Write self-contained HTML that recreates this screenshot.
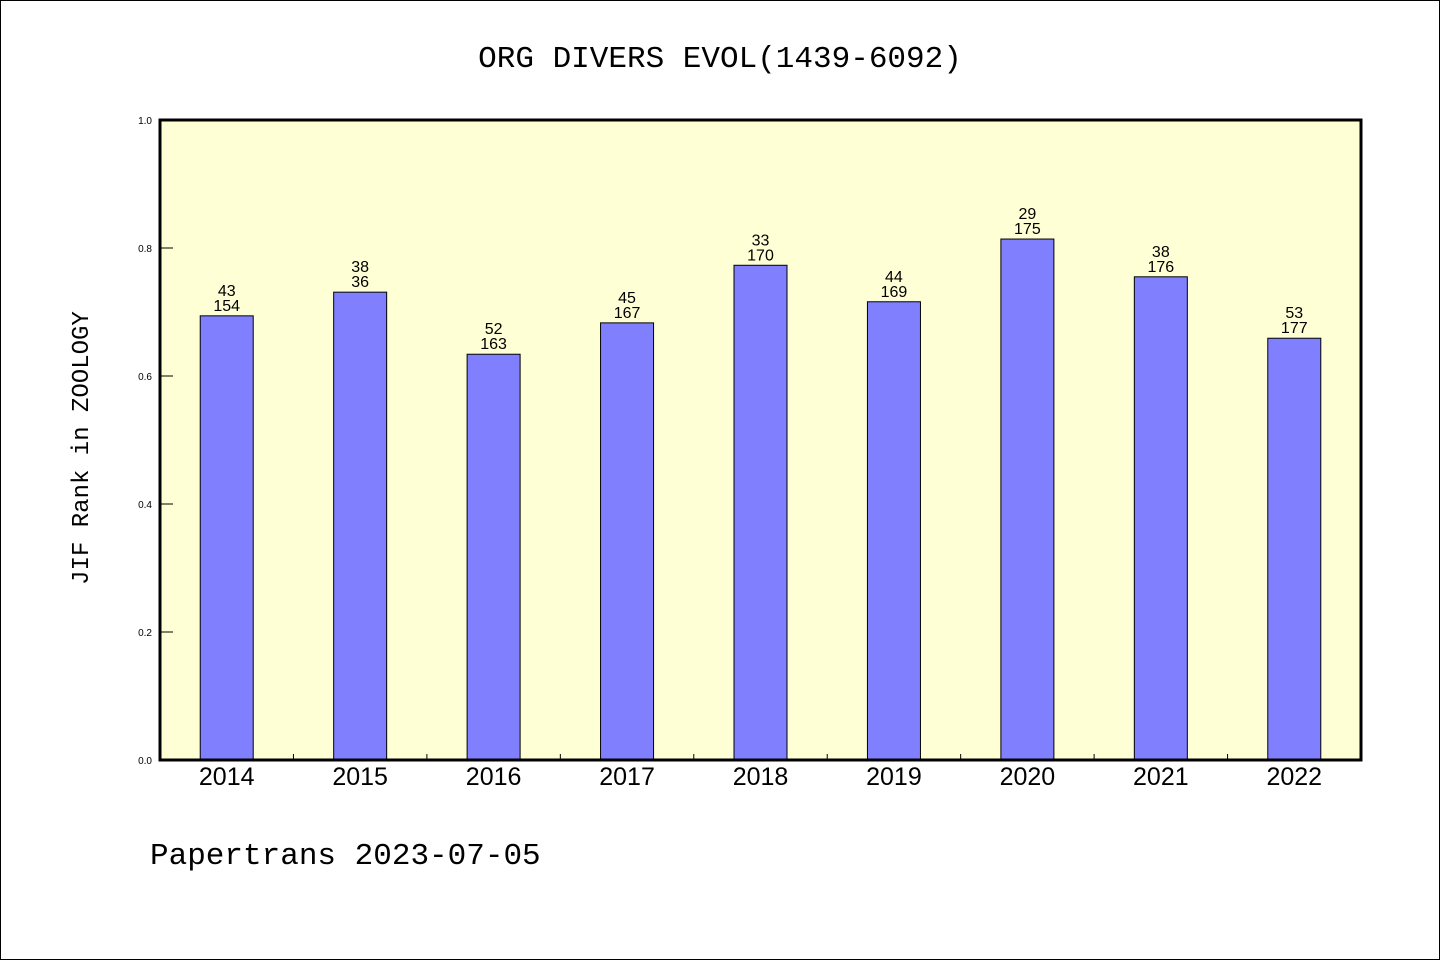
<!DOCTYPE html>
<html><head><meta charset="utf-8"><style>
body{margin:0;background:#fff}
svg{display:block}
</style></head><body>
<svg id="chart" width="1440" height="960" xmlns="http://www.w3.org/2000/svg">
<rect x="0.5" y="0.5" width="1439" height="959" fill="#fff" stroke="#000"/>
<text x="720" y="67" text-anchor="middle" font-family="'WenQuanYi Zen Hei','Liberation Mono',monospace" font-size="31">ORG DIVERS EVOL(1439-6092)</text>
<rect x="160" y="120" width="1201" height="640" fill="#ffffd5"/>
<g id="bars"></g>
<g id="axes"></g>
<rect x="160" y="120" width="1201" height="640" fill="none" stroke="#000" stroke-width="3"/>
<text transform="translate(88,448) rotate(-90)" text-anchor="middle" font-family="'WenQuanYi Zen Hei','Liberation Mono',monospace" font-size="24">JIF Rank in ZOOLOGY</text>
<text x="150" y="864" font-family="'WenQuanYi Zen Hei','Liberation Mono',monospace" font-size="31">Papertrans 2023-07-05</text>
</svg>
<script>
const categories=["2014","2015","2016","2017","2018","2019","2020","2021","2022"];
const values=[0.694,0.731,0.634,0.683,0.773,0.716,0.814,0.755,0.659];
const rankTop=["43","38","52","45","33","44","29","38","53"];
const rankBottom=["154","36","163","167","170","169","175","176","177"];
const yTicks=[0,0.2,0.4,0.6,0.8,1.0];
const yTickLabels=["0.0","0.2","0.4","0.6","0.8","1.0"];
const NS="http://www.w3.org/2000/svg";
const X0=160,X1=1361,Y0=760,Y1=120;
const band=(X1-X0)/categories.length;
const xc=i=>X0+band*(i+0.5);
const y=v=>Y0-(Y0-Y1)*v;
function mk(tag,attrs,parent,txt){const e=document.createElementNS(NS,tag);for(const k in attrs)e.setAttribute(k,attrs[k]);if(txt!==undefined)e.textContent=txt;parent.appendChild(e);return e;}
const gb=document.getElementById('bars'),ga=document.getElementById('axes');
const bw=53;
categories.forEach((c,i)=>{
 const r=mk('rect',{x:xc(i)-bw/2,y:y(values[i]),width:bw,height:Y0-y(values[i]),fill:'#8080ff',stroke:'#000','stroke-width':1},gb);
 
 
 const t1=mk('text',{x:xc(i),y:y(values[i])-20,'text-anchor':'middle','font-family':'Liberation Sans, sans-serif','font-size':16},gb,rankTop[i]);
 
 
 const t2=mk('text',{x:xc(i),y:y(values[i])-5,'text-anchor':'middle','font-family':'Liberation Sans, sans-serif','font-size':16},gb,rankBottom[i]);
 
 
 const xl=mk('text',{x:xc(i),y:785,'text-anchor':'middle','font-family':'Liberation Sans, sans-serif','font-size':25},ga,c);
 
 
 if(i>0){const tk=mk('line',{x1:X0+band*i,x2:X0+band*i,y1:Y0,y2:Y0-6,stroke:'#000','stroke-width':1},ga);
 
 }
});
yTicks.forEach((v,i)=>{
 const tk=mk('line',{x1:X0,x2:X0+13,y1:y(v),y2:y(v),stroke:'#000','stroke-width':1},ga);
 
 
 const t=mk('text',{x:152,y:y(v)+4,'text-anchor':'end','font-family':'Liberation Sans, sans-serif','font-size':10},ga,yTickLabels[i]);
 
 
});
</script>
</body></html>
